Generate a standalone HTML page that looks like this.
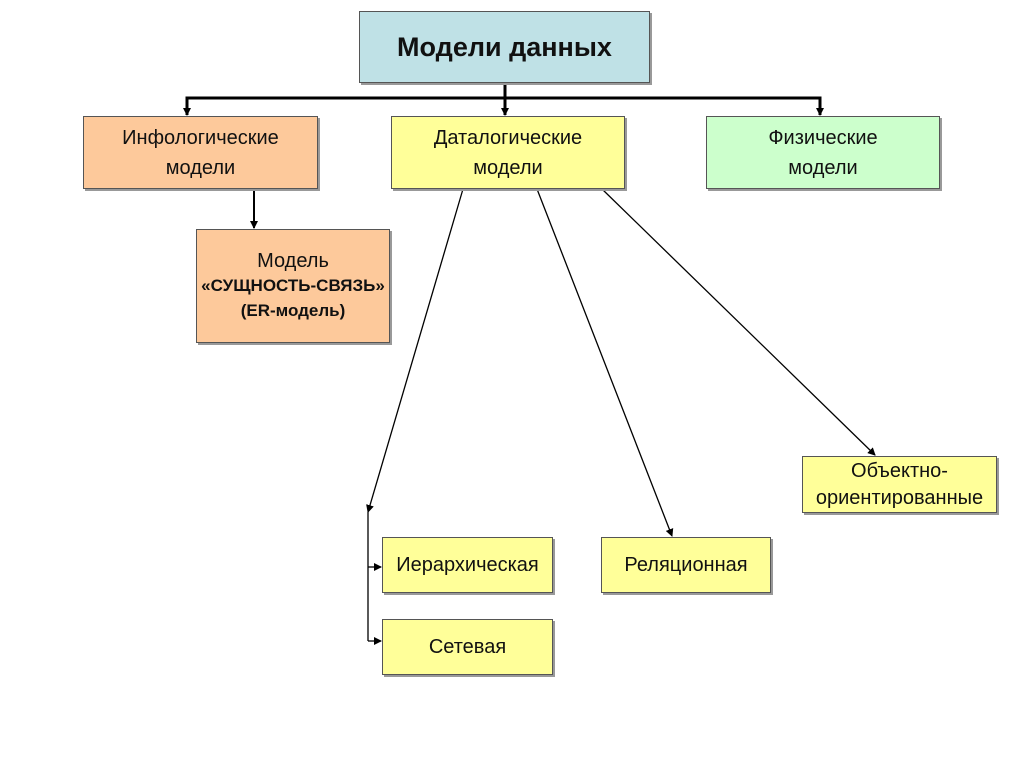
<!DOCTYPE html>
<html><head><meta charset="utf-8"><style>
body{margin:0;width:1024px;height:767px;background:#fff;position:relative;overflow:hidden;font-family:"Liberation Sans","DejaVu Sans",sans-serif}
.b{position:absolute;box-sizing:border-box;border:1px solid #555;box-shadow:2px 2px 0 #999;display:flex;align-items:center;justify-content:center;text-align:center;color:#111;font-size:20px;line-height:30px}
svg{position:absolute;left:0;top:0}
</style></head><body>
<svg width="1024" height="767">
<defs><marker id="a" markerWidth="8" markerHeight="8" refX="7" refY="4" orient="auto" markerUnits="userSpaceOnUse"><path d="M0,0 L8,4 L0,8z" fill="#000"/></marker></defs>
<g stroke="#000" fill="none">
<line x1="505" y1="83" x2="505" y2="115" stroke-width="3" marker-end="url(#a)"/>
<polyline points="187,115 187,98 820,98 820,115" stroke-width="3"/>
<line x1="187" y1="100" x2="187" y2="115" stroke-width="2" marker-end="url(#a)"/>
<line x1="820" y1="100" x2="820" y2="115" stroke-width="2" marker-end="url(#a)"/>
<line x1="254" y1="189" x2="254" y2="228" stroke-width="2" marker-end="url(#a)"/>
<line x1="463" y1="189" x2="368" y2="512" stroke-width="1.3" marker-end="url(#a)"/>
<line x1="537" y1="189" x2="672" y2="536" stroke-width="1.3" marker-end="url(#a)"/>
<line x1="602" y1="189" x2="875" y2="455" stroke-width="1.3" marker-end="url(#a)"/>
<line x1="368" y1="512" x2="368" y2="641" stroke-width="1.3"/>
<line x1="368" y1="567" x2="381" y2="567" stroke-width="1.3" marker-end="url(#a)"/>
<line x1="368" y1="641" x2="381" y2="641" stroke-width="1.3" marker-end="url(#a)"/>
</g></svg>
<div class="b" style="left:359px;top:11px;width:291px;height:72px;background:#bfe1e6;font-size:27px;font-weight:bold">Модели данных</div>
<div class="b" style="left:83px;top:116px;width:235px;height:73px;background:#fdc99b">Инфологические<br>модели</div>
<div class="b" style="left:391px;top:116px;width:234px;height:73px;background:#ffff99">Даталогические<br>модели</div>
<div class="b" style="left:706px;top:116px;width:234px;height:73px;background:#ccffcc">Физические<br>модели</div>
<div class="b" style="left:196px;top:229px;width:194px;height:114px;background:#fdc99b;line-height:24px"><div>Модель<br><b style="font-size:17px">«СУЩНОСТЬ-СВЯЗЬ»<br>(ER-модель)</b></div></div>
<div class="b" style="left:802px;top:456px;width:195px;height:57px;background:#ffff99;line-height:27px">Объектно-<br>ориентированные</div>
<div class="b" style="left:382px;top:537px;width:171px;height:56px;background:#ffff99">Иерархическая</div>
<div class="b" style="left:382px;top:619px;width:171px;height:56px;background:#ffff99">Сетевая</div>
<div class="b" style="left:601px;top:537px;width:170px;height:56px;background:#ffff99">Реляционная</div>
</body></html>
